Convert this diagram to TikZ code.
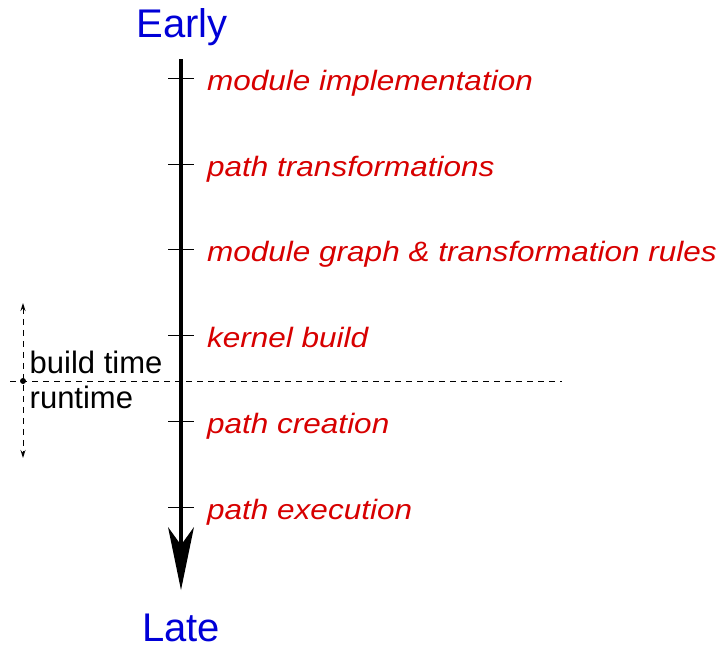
\documentclass[tikz,border=0pt]{standalone}
\usepackage{fontspec}
\setmainfont{Liberation Sans}
\newfontfamily\redfont[FakeStretch=1.125]{Liberation Sans}
\usetikzlibrary{arrows.meta}
\definecolor{labred}{RGB}{215,0,0}
\definecolor{labblue}{RGB}{0,0,215}
\begin{document}
\begin{tikzpicture}[x=1pt,y=-1pt,
  ticmark/.style={line width=1pt},
  shaft/.style={line width=4pt},
  dashline/.style={line width=1pt, dash pattern=on 6pt off 5pt},
  lab/.style={anchor=base west, inner sep=0pt, text=labred, font=\redfont\itshape\fontsize{28}{32}\selectfont},
  endlab/.style={anchor=base, inner sep=0pt, text=labblue, font=\fontsize{40}{44}\selectfont},
  sidelab/.style={anchor=base west, inner sep=0pt, text=black, font=\fontsize{31}{34}\selectfont},
  smalltip/.tip={Stealth[length=8pt,width=5pt]}
]
\useasboundingbox (0,0) rectangle (722,648);

% end labels
\node[endlab] (early) at (182,37) {Early};
\node[endlab] (late) at (181,641.5) {Late};

% main time axis
\coordinate (top) at (181,59);
\coordinate (neck) at (181,545);
\coordinate (tip) at (181,590);
\draw[shaft] (top) -- (neck);
\fill (tip) -- (194,527) -- (neck) -- (168,527) -- cycle;

% ticks and labels
\foreach \y/\name/\txt in {78.5/l1/module implementation,
                         164.2/l2/path transformations,
                         249.9/l3/module graph \& transformation rules,
                         335.6/l4/kernel build,
                         421.3/l5/path creation,
                         507/l6/path execution}{
  \draw[ticmark] (168,\y) coordinate (\name a) -- (194,\y) coordinate (\name b);
  \node[lab] (\name) at (207,\y+12) {\txt};
}

% build time / runtime separation
\coordinate (dl) at (10,381);
\coordinate (dr) at (562,381);
\draw[dashline] (dl) -- (dr);
\node[circle, fill=black, inner sep=0pt, minimum size=6pt] (dot) at (23,381) {};
\coordinate (up) at (23,303);
\coordinate (down) at (23,458);
\draw[dashline, smalltip-smalltip] (up) -- (down);
\node[sidelab] (bt) at (29.5,373.5) {build time};
\node[sidelab] (rt) at (29.5,408.5) {runtime};
\end{tikzpicture}
\end{document}
